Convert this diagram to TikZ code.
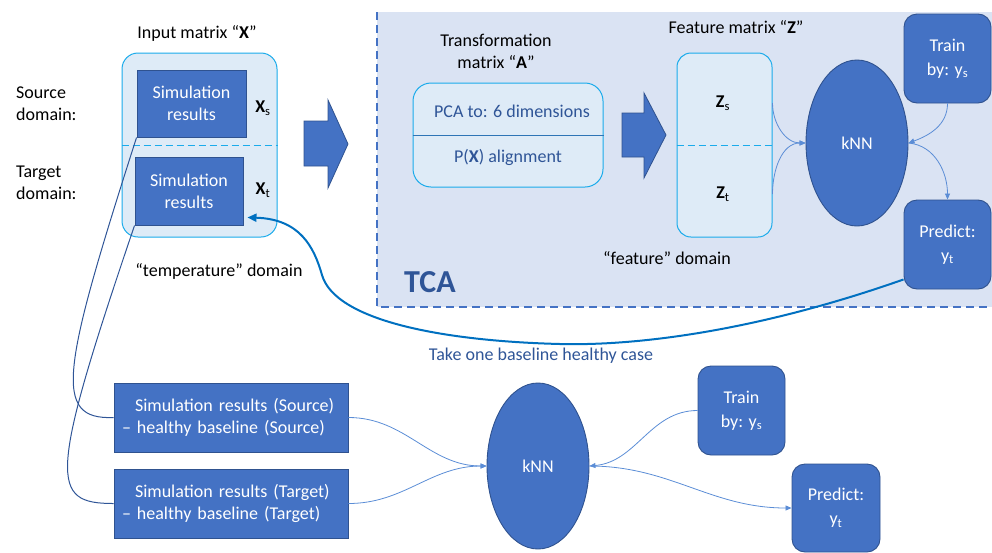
\documentclass[tikz,border=0pt]{standalone}
\usepackage{fontspec}
\setmainfont{Carlito}
\usetikzlibrary{arrows.meta,shapes.geometric}
\definecolor{boxblue}{HTML}{4472C4}
\definecolor{boxedge}{HTML}{2F528F}
\definecolor{paleblue}{HTML}{DEEBF7}
\definecolor{cyanedge}{HTML}{1AABEB}
\definecolor{tcafill}{HTML}{DAE3F3}
\definecolor{navytext}{HTML}{2F5597}
\definecolor{linkblue}{HTML}{5B8DD6}
\definecolor{curveblue}{HTML}{0070C0}
\definecolor{dividerblue}{HTML}{2E75B6}

\tikzset{
  darkbox/.style={draw=boxedge, fill=boxblue, text=white, line width=0.9pt, inner sep=0pt, align=center},
  roundbox/.style={darkbox, rounded corners=13pt, minimum width=87pt, minimum height=89pt, font=\fontsize{18}{24}\selectfont},
  palebox/.style={draw=cyanedge, fill=paleblue, line width=1pt, inner sep=0pt},
  knnshape/.style={ellipse, draw=boxedge, fill=boxblue, text=white, minimum width=102pt, minimum height=166pt, inner sep=0pt, line width=0.9pt},
  link/.style={draw=linkblue, line width=0.8pt, -{Triangle[length=6pt,width=5pt]}},
  tieline/.style={draw=navytext, line width=1pt},
  bigarrow/.style={fill=boxblue, draw=boxedge, line width=0.8pt},
  lbl/.style={inner sep=0pt, align=center},
}

\begin{document}
\begin{tikzpicture}[x=1pt, y=-1pt, font=\fontsize{18}{22}\selectfont]
\useasboundingbox (0,0) rectangle (992,552);

% TCA region
\fill[tcafill] (377,12) rectangle (992,307);
\draw[boxblue, line width=1.8pt, dash pattern=on 8pt off 5pt] (377,12) -- (377,307) -- (992,307);
\node[lbl, anchor=west, text=navytext, font=\fontsize{32}{36}\selectfont\bfseries] (tca) at (404,282) {TCA};

% input matrix
\node[lbl] (xtitle) at (197,33) {Input matrix “\textbf{X}”};
\node[palebox, rounded corners=16pt, minimum width=155pt, minimum height=184pt] (xc) at (199.5,145) {};
\draw[cyanedge, line width=1pt, dash pattern=on 7pt off 4pt] (xc.west) -- (xc.east);
\node[darkbox, minimum width=109pt, minimum height=67pt] (s1) at (191.5,103.5) {Simulation\\results};
\node[darkbox, minimum width=108pt, minimum height=68pt] (s2) at (189,191) {Simulation\\results};
\node[lbl] (xs) at (263,108) {\textbf{X}\textsubscript{s}};
\node[lbl] (xt) at (263,190) {\textbf{X}\textsubscript{t}};
\node[lbl, anchor=west, align=left] (srcdom) at (16,103.5) {Source\\domain:};
\node[lbl, anchor=west, align=left] (tgtdom) at (16,183) {Target\\domain:};
\node[lbl] (tempdom) at (219,271) {“temperature” domain};

% block arrows
\draw[bigarrow] (304,121) -- (328,121) -- (328,100) -- (348,144) -- (328,188) -- (328,166) -- (304,166) -- cycle;
\draw[bigarrow] (622,113) -- (644,113) -- (644,93) -- (666,135) -- (644,178) -- (644,157) -- (622,157) -- cycle;

% transformation matrix
\node[lbl] (atitle) at (496,51.5) {Transformation\\matrix “\textbf{A}”};
\node[palebox, rounded corners=18pt, minimum width=190pt, minimum height=104pt] (pca) at (508,135) {};
\draw[dividerblue, line width=1pt] (pca.west) -- (pca.east);
\node[lbl, text=navytext] (pcatext) at (512,111) {PCA to: 6 dimensions};
\node[lbl, text=navytext] (align) at (508,157) {P(\textbf{X}) alignment};

% feature matrix
\node[lbl] (ztitle) at (736,27) {Feature matrix “\textbf{Z}”};
\node[palebox, rounded corners=14pt, minimum width=95pt, minimum height=184pt] (zc) at (724.5,145) {};
\draw[cyanedge, line width=1pt, dash pattern=on 7pt off 4pt] (zc.west) -- (zc.east);
\node[lbl] (zs) at (723,103) {\textbf{Z}\textsubscript{s}};
\node[lbl] (zt) at (723,194) {\textbf{Z}\textsubscript{t}};
\node[lbl] (featdom) at (667,258) {“feature” domain};

% classifier inside TCA
\node[knnshape] (knn1) at (857,143) {kNN};
\node[roundbox] (tr1) at (947.5,58.5) {Train\\by: y\textsubscript{s}};
\node[roundbox] (pr1) at (947.5,244.5) {Predict:\\y\textsubscript{t}};

\draw[link] (zc.east |- zs) to[out=-90, in=180] (knn1.west);
\draw[link] (zc.east |- zt) to[out=90, in=180] (knn1.west);
\draw[link] (tr1.south) to[out=-90, in=20] (knn1.east);
\draw[link] (knn1.east) to[out=-5, in=90] (pr1.north);

% baseline feedback curve
\draw[curveblue, line width=2pt, -{Triangle[length=9pt,width=8pt]}]
  ([yshift=10pt]pr1.south west) .. controls (760,330) and (640,346) .. (560,344)
  .. controls (440,341) and (335,320) .. (322,275)
  .. controls (314,247) and (300,219) .. ([xshift=4pt,yshift=8pt]s2.south east);
\node[lbl, text=navytext] (take) at (541,356) {Take one baseline healthy case};

% lower pipeline
\node[darkbox, align=left, text width=218pt, inner xsep=8pt, minimum height=69pt] (b1) at (231,417.5)
  {\hspace*{13pt}Simulation results (Source)\\– healthy baseline (Source)};
\node[darkbox, align=left, text width=218pt, inner xsep=8pt, minimum height=69pt] (b2) at (231,503.5)
  {\hspace*{13pt}Simulation results (Target)\\– healthy baseline (Target)};
\node[knnshape] (knn2) at (538,466) {kNN};
\node[roundbox] (tr2) at (741.5,410.5) {Train\\by: y\textsubscript{s}};
\node[roundbox, minimum width=88pt, minimum height=88pt] (pr2) at (836,508) {Predict:\\y\textsubscript{t}};

\draw[link] (b1.east) to[out=0, in=180] (knn2.west);
\draw[link] (b2.east) to[out=0, in=180] (knn2.west);
\draw[link] (tr2.west) to[out=180, in=5] (knn2.east);
\draw[link] (knn2.east) to[out=0, in=180] (pr2.west);

% ties from the input results to the lower boxes
\draw[tieline] (s1.south west) .. controls (62,370) and (52,420) .. (b1.west);
\draw[tieline] (s2.south west) .. controls (48,480) and (50,503.5) .. (b2.west);
\end{tikzpicture}
\end{document}
